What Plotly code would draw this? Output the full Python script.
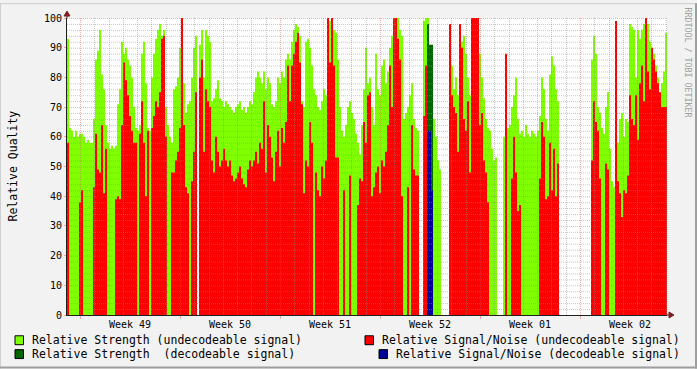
import plotly.graph_objects as go

# ---------------- data (one sample per RRD step) ----------------
strength_undec = [
    93, 63, 62, 60, 62, 60, 61, 61, 60, 58,
    59, 58, 58, 66, 86, 89, 96, 81, 76, 64,
    58, 56, 57, 56, 57, 71, 76, 92, 88, 90,
    86, 84, 80, 70, 63, 62, 64, 88, 92, 78,
    63, 62, 80, 88, 93, 96, 98, 94, 96, 70,
    64, 60, 58, 76, 77, 80, 90, 86, 78, 68,
    71, 72, 80, 90, 94, 0, 91, 96, 80, 96,
    94, 92, 72, 73, 76, 79, 73, 72, 70, 72,
    71, 70, 69, 68, 70, 71, 72, 69, 70, 68,
    70, 72, 71, 75, 80, 82, 80, 78, 82, 76,
    80, 78, 71, 70, 72, 80, 78, 82, 80, 86,
    88, 86, 92, 96, 98, 97, 94, 72, 70, 92,
    93, 90, 84, 76, 74, 70, 69, 72, 76, 74,
    100, 99, 100, 96, 95, 86, 70, 62, 60, 64,
    70, 72, 68, 66, 61, 58, 54, 64, 76, 90,
    78, 80, 70, 64, 88, 76, 74, 84, 86, 78,
    82, 90, 94, 98, 100, 100, 96, 94, 66, 68,
    70, 74, 78, 66, 63, 62, 0, 0, 99, 100,
    100, 90, 72, 66, 60, 52, 49, 0, 0, 0,
    0, 95, 84, 76, 80, 74, 96, 92, 94, 88,
    80, 74, 100, 100, 100, 100, 88, 80, 73, 66,
    63, 62, 56, 52, 53, 0, 0, 0, 60, 60,
    63, 64, 70, 74, 80, 66, 61, 62, 60, 64,
    61, 60, 62, 61, 60, 62, 67, 80, 76, 66,
    62, 81, 87, 84, 76, 72, 0, 0, 0, 0,
    0, 0, 0, 0, 0, 0, 0, 0, 0, 0,
    0, 0, 86, 94, 88, 70, 68, 63, 61, 70,
    75, 56, 45, 43, 44, 58, 66, 68, 60, 66,
    65, 98, 97, 96, 80, 96, 93, 96, 98, 100,
    98, 92, 90, 88, 84, 80, 74, 78, 82, 95,
]
snr_undec = [
    58, 0, 0, 0, 0, 0, 38, 42, 0, 0,
    0, 0, 0, 43, 61, 49, 48, 64, 41, 56,
    0, 0, 0, 0, 39, 40, 39, 64, 85, 79,
    74, 67, 62, 58, 58, 0, 61, 72, 58, 40,
    62, 0, 63, 67, 72, 70, 75, 93, 94, 60,
    0, 0, 48, 48, 52, 55, 63, 100, 64, 43,
    41, 0, 45, 55, 75, 0, 80, 86, 55, 76,
    72, 70, 52, 48, 60, 55, 50, 52, 56, 52,
    50, 52, 47, 45, 46, 48, 50, 46, 44, 43,
    49, 52, 50, 52, 55, 51, 58, 56, 72, 48,
    64, 60, 53, 45, 55, 62, 50, 63, 58, 65,
    84, 72, 84, 88, 92, 95, 85, 71, 41, 52,
    50, 65, 58, 0, 48, 42, 40, 50, 46, 52,
    100, 85, 100, 84, 53, 53, 0, 0, 42, 0,
    0, 47, 0, 0, 0, 37, 46, 45, 65, 58,
    74, 75, 40, 43, 48, 50, 41, 52, 50, 55,
    64, 84, 70, 100, 100, 93, 86, 40, 0, 0,
    43, 0, 64, 49, 47, 47, 0, 0, 67, 84,
    0, 0, 0, 0, 0, 0, 0, 0, 0, 0,
    0, 98, 74, 70, 68, 55, 98, 90, 66, 62,
    72, 48, 100, 100, 100, 100, 64, 68, 52, 48,
    38, 0, 0, 0, 0, 0, 0, 0, 0, 88,
    0, 0, 46, 60, 48, 35, 37, 0, 0, 0,
    0, 0, 0, 0, 0, 0, 46, 65, 60, 39,
    40, 58, 42, 56, 40, 51, 0, 0, 0, 0,
    0, 0, 0, 0, 0, 0, 0, 0, 0, 0,
    0, 0, 52, 72, 65, 62, 46, 0, 0, 51,
    49, 0, 0, 0, 99, 45, 41, 33, 42, 41,
    47, 74, 66, 64, 74, 59, 78, 84, 72, 100,
    82, 76, 90, 86, 82, 78, 75, 70, 70, 70,
]
# decoded samples (only a short burst)
dec_first_sample = 180
strength_dec = [98, 91, 91]
snr_dec = [62, 62, 42]

week_labels = ["Week 49", "Week 50", "Week 51", "Week 52", "Week 01", "Week 02"]
y_ticks = list(range(0, 101, 10))

# time base: days relative to Monday of week 49
start_day = -0.91
step_day = 0.14
n_samples = len(strength_undec)
end_day = start_day + step_day * n_samples

def step_series(vals, first=0):
    xs = [start_day + step_day * (first + i) for i in range(len(vals) + 1)]
    ys = list(vals) + [vals[-1]]
    return xs, ys

MONO = "DejaVu Sans Mono"
C_LIME = "#80FF00"
C_RED = "#FF0000"
C_DKGREEN = "#006600"
C_BLUE = "#000099"

fig = go.Figure()
for vals, first, col in [
    (strength_undec, 0, C_LIME),
    (snr_undec, 0, C_RED),
    (strength_dec, dec_first_sample, C_DKGREEN),
    (snr_dec, dec_first_sample, C_BLUE),
]:
    xs, ys = step_series(vals, first)
    fig.add_trace(go.Scatter(
        x=xs, y=ys, mode="lines", line=dict(shape="hv", width=0, color=col),
        fill="tozeroy", fillcolor=col, showlegend=False, hoverinfo="skip"))

# pixel helpers (plot area: x 67..667, y 15..315)
L, R, T, B = 67, 667, 15, 315
def PX(px):
    return (px - L) / (R - L)
def PY(py):
    return (B - py) / (B - T)

days_span = end_day - start_day
def day_to_crisp(d):
    # snap a grid line onto the centre of a device pixel column
    col = round(L + (d - start_day) / days_span * (R - L))
    return start_day + (col + 0.5 - L) / (R - L) * days_span
def val_to_crisp(v):
    row = round(B - v * (B - T) / 100)
    return (B - (row + 0.5)) * 100 / (B - T)

shapes = []
GRID = "rgba(143,143,143,0.5)"
MGRID = "rgba(222,79,79,0.45)"
d = 0
while d <= end_day:
    xd = day_to_crisp(d)
    shapes.append(dict(type="line", xref="x", yref="y", x0=xd, x1=xd, y0=0, y1=100,
                       line=dict(color=MGRID if d % 7 == 0 else GRID, width=1, dash="1px,1px"),
                       layer="above"))
    d += 1
for v in range(2, 101, 2):
    yv = val_to_crisp(v)
    shapes.append(dict(type="line", xref="x", yref="y", x0=start_day, x1=end_day, y0=yv, y1=yv,
                       line=dict(color=MGRID if v % 10 == 0 else GRID, width=1, dash="1px,1px"),
                       layer="above"))

AXIS = "#1F1F1F"
ARROW = "#801F1F"
# axis extensions and arrows
shapes.append(dict(type="line", xref="paper", yref="paper", x0=PX(L), x1=PX(L), y0=PY(T), y1=PY(12),
                   line=dict(color=AXIS, width=1)))
shapes.append(dict(type="path", xref="paper", yref="paper",
                   path=f"M{PX(L-3)},{PY(13)} L{PX(L+3)},{PY(13)} L{PX(L)},{PY(8)} Z",
                   fillcolor=ARROW, line=dict(color=ARROW, width=1)))
shapes.append(dict(type="line", xref="paper", yref="paper", x0=PX(R), x1=PX(670), y0=PY(B), y1=PY(B),
                   line=dict(color=AXIS, width=1)))
shapes.append(dict(type="path", xref="paper", yref="paper",
                   path=f"M{PX(669)},{PY(B-3)} L{PX(669)},{PY(B+3)} L{PX(674)},{PY(B)} Z",
                   fillcolor=ARROW, line=dict(color=ARROW, width=1)))
# image frame
shapes.append(dict(type="line", xref="paper", yref="paper", x0=PX(0), x1=PX(697), y0=PY(0.5), y1=PY(0.5),
                   line=dict(color="#CFCFCF", width=1)))
shapes.append(dict(type="line", xref="paper", yref="paper", x0=PX(0.5), x1=PX(0.5), y0=PY(0), y1=PY(369),
                   line=dict(color="#CFCFCF", width=1)))
shapes.append(dict(type="line", xref="paper", yref="paper", x0=PX(0), x1=PX(697), y0=PY(368), y1=PY(368),
                   line=dict(color="#9E9E9E", width=2)))
shapes.append(dict(type="line", xref="paper", yref="paper", x0=PX(696), x1=PX(696), y0=PY(0), y1=PY(369),
                   line=dict(color="#9E9E9E", width=2)))

# legend
legend_items = [
    ("Relative Strength (undecodeable signal)", C_LIME, 15, 340.5),
    ("Relative Signal/Noise (undecodeable signal)", C_RED, 365, 340.5),
    ("Relative Strength \u00a0(decodeable signal)", C_DKGREEN, 15, 354.5),
    ("Relative Signal/Noise (decodeable signal)", C_BLUE, 379, 354.5),
]
annotations = []
for text, col, bx, cy in legend_items:
    shapes.append(dict(type="rect", xref="paper", yref="paper",
                       x0=PX(bx), x1=PX(bx + 8.5), y0=PY(cy - 4.5), y1=PY(cy + 4.5),
                       fillcolor=col, line=dict(color="black", width=1)))
    annotations.append(dict(text=text, xref="paper", yref="paper", x=PX(bx + 15), y=PY(cy),
                            xanchor="left", yanchor="middle", showarrow=False,
                            font=dict(family=MONO, size=11.5, color="black")))

annotations.append(dict(text="Relative Quality", xref="paper", yref="paper", x=PX(12), y=PY(165),
                        textangle=-90, showarrow=False, xanchor="center", yanchor="middle",
                        font=dict(family=MONO, size=11.5, color="black")))
annotations.append(dict(text="RRDTOOL / TOBI OETIKER", xref="paper", yref="paper", x=PX(688), y=PY(60),
                        textangle=90, showarrow=False, xanchor="center", yanchor="middle",
                        font=dict(family=MONO, size=8.3, color="#A0A0A0")))

fig.update_layout(
    width=697, height=369,
    margin=dict(l=L, r=697 - R, t=T, b=369 - B),
    paper_bgcolor="#F2F2F2", plot_bgcolor="white",
    shapes=shapes, annotations=annotations, showlegend=False,
    xaxis=dict(range=[start_day, end_day], tickmode="array",
               tickvals=[3.5 + 7 * k for k in range(len(week_labels))], ticktext=week_labels,
               ticks="", showgrid=False, zeroline=False, showline=True, linecolor=AXIS, linewidth=1,
               tickfont=dict(family=MONO, size=10, color="black"), fixedrange=True,
               minor=dict(tickmode="array", tickvals=[7 * k for k in range(6)], ticks="outside",
                          ticklen=3, tickcolor=MGRID, showgrid=False)),
    yaxis=dict(range=[0, 100], tickmode="array", tickvals=y_ticks, ticks="outside", ticklen=2,
               tickcolor=MGRID, showgrid=False, zeroline=False, showline=True, linecolor=AXIS,
               linewidth=1, tickfont=dict(family=MONO, size=10, color="black"), fixedrange=True),
)

fig.write_html("out.html")
